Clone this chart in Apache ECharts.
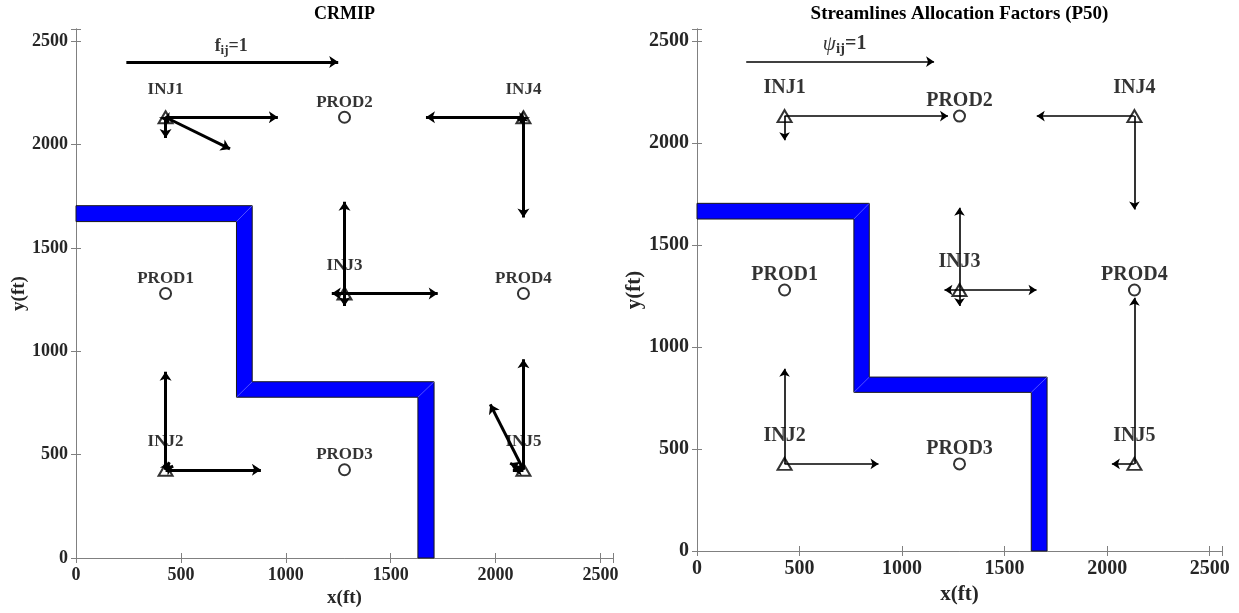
<!DOCTYPE html>
<html>
<head>
<meta charset="utf-8">
<script src="https://cdn.jsdelivr.net/npm/echarts@6/dist/echarts.min.js"></script>
<style>
  html, body { margin: 0; padding: 0; background: #fff; }
  #main { width: 1239px; height: 613px; }
</style>
</head>
<body>
<div id="main"></div>
<script type="text/javascript">
    // well locations (ft)
    var injNames = ['INJ1', 'INJ2', 'INJ3', 'INJ4', 'INJ5'];
    var injX = [427, 427, 1280, 2133, 2133];
    var injY = [2133, 427, 1280, 2133, 427];
    var prodNames = ['PROD1', 'PROD2', 'PROD3', 'PROD4'];
    var prodX = [427, 1280, 1280, 2133];
    var prodY = [1280, 2133, 427, 1280];

    // allocation factors, rows = injectors, columns = PROD1..PROD4
    var crmipF = [
        [0.10, 0.53, 0.03, 0.34],
        [0.47, 0.04, 0.45, 0.04],
        [0.06, 0.44, 0.06, 0.44],
        [0.03, 0.46, 0.03, 0.48],
        [0.07, 0.35, 0.05, 0.53]
    ];
    var streamF = [
        [0.13, 0.87, 0, 0],
        [0.51, 0, 0.50, 0],
        [0.08, 0.44, 0.085, 0.41],
        [0, 0.52, 0, 0.50],
        [0, 0, 0.12, 0.89]
    ];

    // sealing fault outline (ft)
    var barrierX = [0, 840, 840, 1707, 1707, 1630, 1630, 765, 765, 0];
    var barrierY = [1705, 1705, 853, 853, 0, 0, 778, 778, 1628, 1628];

    var xTicks = [0, 500, 1000, 1500, 2000, 2500];
    var fieldMax = 2560;

    var serif = '"Liberation Serif", "Times New Roman", serif';
    var myChart = echarts.init(document.getElementById('main'));

    // one arrow per injector-producer pair, length = factor * scale
    var makeArrows = function (F, scale) {
        var res = [];
        for (var i = 0; i < injX.length; i++) {
            for (var j = 0; j < prodX.length; j++) {
                if (!F[i][j]) continue;
                var dx = prodX[j] - injX[i];
                var dy = prodY[j] - injY[i];
                var d = Math.sqrt(dx * dx + dy * dy);
                var len = F[i][j] * scale;
                res.push({
                    coords: [[injX[i], injY[i]], [injX[i] + dx / d * len, injY[i] + dy / d * len]]
                });
            }
        }
        return res;
    };

    var tickFmt = function (v) {
        return xTicks.indexOf(v) >= 0 ? String(v) : '';
    };

    var makeAxes = function (gi, tickSize, title, titleSize, nameGapX, nameGapY, titleGap) {
        var line = { show: true, lineStyle: { color: '#808080', width: 1 } };
        var tick = { show: true, inside: true, length: 5, lineStyle: { color: '#808080' } };
        var lab = { fontFamily: serif, fontWeight: 'bold', fontSize: tickSize, color: '#262626' };
        return {
            x: [{
                gridIndex: gi, type: 'value', min: 0, max: fieldMax, interval: 500, position: 'bottom',
                axisLine: line, axisTick: tick, splitLine: { show: false },
                axisLabel: Object.assign({ margin: 8, formatter: tickFmt }, lab),
                name: 'x(ft)', nameLocation: 'middle', nameGap: nameGapX,
                nameTextStyle: { fontFamily: serif, fontWeight: 'bold', fontSize: tickSize + 1, color: '#262626' }
            }, {
                gridIndex: gi, type: 'value', min: 0, max: fieldMax, interval: 500, position: 'top',
                axisLine: line, axisTick: tick, splitLine: { show: false }, axisLabel: { show: false },
                name: title, nameLocation: 'middle', nameGap: titleGap,
                nameTextStyle: { fontFamily: serif, fontWeight: 'bold', fontSize: titleSize, color: '#000' }
            }],
            y: [{
                gridIndex: gi, type: 'value', min: 0, max: fieldMax, interval: 500, position: 'left',
                axisLine: line, axisTick: tick, splitLine: { show: false },
                axisLabel: Object.assign({ margin: 8, formatter: tickFmt }, lab),
                name: 'y(ft)', nameLocation: 'middle', nameGap: nameGapY, nameRotate: 90,
                nameTextStyle: { fontFamily: serif, fontWeight: 'bold', fontSize: tickSize + 1, color: '#262626' }
            }, {
                gridIndex: gi, type: 'value', min: 0, max: fieldMax, interval: 500, position: 'right',
                axisLine: line, axisTick: tick, splitLine: { show: false }, axisLabel: { show: false }
            }]
        };
    };

    var axL = makeAxes(0, 18, 'CRMIP', 18, 30, 46, 6);
    var axR = makeAxes(1, 20, 'Streamlines Allocation Factors (P50)', 19, 32, 50, 5);

    var barrierItem = function (params, api) {
        var pts = barrierX.map(function (x, i) { return api.coord([x, barrierY[i]]); });
        // faint mitre seams at the fault corners
        var seams = [[1, 8], [2, 7], [3, 6]].map(function (p) {
            return {
                type: 'line',
                shape: { x1: pts[p[0]][0], y1: pts[p[0]][1], x2: pts[p[1]][0], y2: pts[p[1]][1] },
                style: { stroke: 'rgba(170,170,255,0.8)', lineWidth: 0.6 }
            };
        });
        return {
            type: 'group',
            children: [{
                type: 'polygon',
                shape: { points: pts },
                style: { fill: '#0000ff', stroke: '#1a1a1a', lineWidth: 1 }
            }].concat(seams)
        };
    };

    var chartSeries = function (gi, F, scale, lw, headSize, labSize, injOff, prodOff, legendX, legendY, legendText, legendRich) {
        return [{
            type: 'custom',
            xAxisIndex: gi * 2, yAxisIndex: gi * 2,
            renderItem: barrierItem,
            data: [[0, 0]],
            silent: true,
            z: 1
        }, {
            type: 'lines',
            coordinateSystem: 'cartesian2d',
            xAxisIndex: gi * 2, yAxisIndex: gi * 2,
            symbol: ['none', 'arrow'],
            symbolSize: headSize,
            lineStyle: { color: '#000', width: lw, opacity: 1 },
            data: makeArrows(F, scale).concat([{ coords: [[240, 2400], [240 + scale, 2400]] }]),
            silent: true,
            z: 3
        }, {
            type: 'scatter',
            xAxisIndex: gi * 2, yAxisIndex: gi * 2,
            symbol: 'triangle',
            symbolSize: [14, 12],
            itemStyle: { color: 'rgba(255,255,255,0)', borderColor: '#000', borderWidth: 2 },
            label: {
                show: true, position: 'inside', offset: [0, injOff], formatter: '{b}',
                fontFamily: serif, fontWeight: 'bold', fontSize: labSize, color: '#000'
            },
            data: injNames.map(function (n, i) { return { name: n, value: [injX[i], injY[i]] }; }),
            z: 4
        }, {
            type: 'scatter',
            xAxisIndex: gi * 2, yAxisIndex: gi * 2,
            symbol: 'circle',
            symbolSize: 11,
            itemStyle: { color: 'rgba(255,255,255,0)', borderColor: '#000', borderWidth: 2 },
            label: {
                show: true, position: 'inside', offset: [0, prodOff], formatter: '{b}',
                fontFamily: serif, fontWeight: 'bold', fontSize: labSize, color: '#000'
            },
            data: prodNames.map(function (n, i) { return { name: n, value: [prodX[i], prodY[i]] }; }),
            z: 4
        }, {
            type: 'scatter',
            xAxisIndex: gi * 2, yAxisIndex: gi * 2,
            symbol: 'circle',
            symbolSize: 1,
            itemStyle: { color: 'rgba(255,255,255,0)' },
            label: { show: true, position: 'inside', formatter: legendText, rich: legendRich },
            data: [[legendX, legendY]],
            silent: true,
            z: 4
        }];
    };

    var richL = {
        m: { fontFamily: serif, fontWeight: 'bold', fontSize: 18, color: '#000', lineHeight: 20, verticalAlign: 'top' },
        s: { fontFamily: serif, fontWeight: 'bold', fontSize: 13, color: '#000', lineHeight: 14, padding: [17, 0, 0, 0], verticalAlign: 'bottom' }
    };
    var richR = {
        g: { fontFamily: serif, fontStyle: 'italic', fontSize: 21, color: '#000', lineHeight: 22, verticalAlign: 'top' },
        m: { fontFamily: serif, fontWeight: 'bold', fontSize: 20, color: '#000', lineHeight: 22, verticalAlign: 'top' },
        s: { fontFamily: serif, fontWeight: 'bold', fontSize: 15, color: '#000', lineHeight: 15, padding: [17, 0, 0, 0], verticalAlign: 'bottom' }
    };

    var option = {
        backgroundColor: '#fff',
        animation: false,
        grid: [
            { left: 76, top: 29, width: 537, height: 529, show: false },
            { left: 697, top: 28, width: 525, height: 523, show: false }
        ],
        xAxis: axL.x.concat(axR.x),
        yAxis: axL.y.concat(axR.y),
        series: chartSeries(0, crmipF, 1010, 3, 9, 17, -28, -15, 740, 2470, '{m|f}{s|ij}{m|=1}', richL)
            .concat(chartSeries(1, streamF, 916, 1.6, 8, 20, -28, -15, 720, 2480, '{g|ψ}{s|ij}{m|=1}', richR))
    };
    myChart.setOption(option);
</script>
</body>
</html>
